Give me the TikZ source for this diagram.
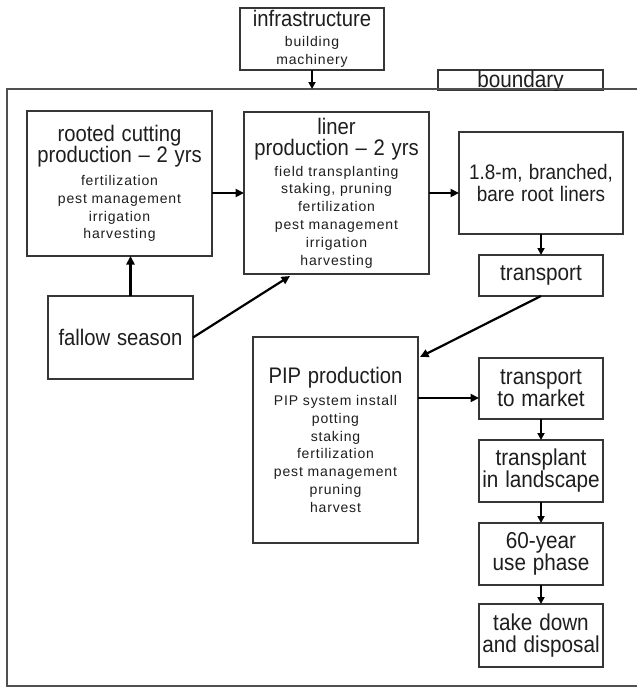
\documentclass[tikz,border=0pt]{standalone}
\usepackage{fontspec}
\setmainfont{Liberation Sans}
\newfontfamily\cf{Liberation Sans}[FakeStretch=0.9]
\usetikzlibrary{arrows.meta,calc}
\setlength\parindent{0pt}
\definecolor{boxc}{HTML}{363636}
\definecolor{bndc}{HTML}{505050}
\definecolor{txt}{HTML}{1E1E1E}
\newcommand\bigf{\cf\fontsize{22.5}{21}\selectfont\spaceskip=0.3em\relax}
\newcommand\smf{\fontsize{14}{17.8}\selectfont\addfontfeature{LetterSpace=6}\spaceskip=0.34em\relax}
\newcommand\rtf{\cf\fontsize{23}{22}\selectfont\spaceskip=0.3em\relax}
\newcommand\tb[1]{{\bigf #1\par}}
\newcommand\ts[1]{{\smf #1\par}}
\begin{document}
\begin{tikzpicture}[x=1pt,y=-1pt,
  box/.style={draw=boxc,line width=1.3pt,inner sep=0pt,outer sep=0pt,align=center,text=txt,fill=white},
  arr/.style={draw=black,line width=2.2pt,-{Triangle[length=8.5pt,width=8pt]}},
  sarr/.style={draw=black,line width=1.8pt,-{Triangle[length=7pt,width=7pt]}}]
\useasboundingbox (0,0) rectangle (637,688);
% boundary tab and label
\node[box,minimum width=165pt,minimum height=20pt] (tab) at (520.5,80) {};
\begin{scope}
\clip (tab.north west) rectangle (tab.south east);
\node[anchor=base,inner sep=0pt,text=txt,font=\rtf] (tablbl) at (520.5,87.5) {boundary};
\end{scope}
% system boundary (right edge lies beyond the page)
\node[draw=bndc,line width=2pt,inner sep=0pt,outer sep=0pt,minimum width=634pt,minimum height=597pt] (bnd) at (324,387.5) {};
% boxes
\node[box,minimum width=144pt,minimum height=62pt,text width=140pt] (infra) at (312,39)
  {\tb{infrastructure}\vspace{2pt}\ts{building\\machinery}};
\node[box,minimum width=185pt,minimum height=145pt,text width=180pt] (rooted) at (119.5,183.5)
  {\tb{rooted cutting\\production – 2 yrs}\vspace{5pt}\ts{fertilization\\pest management\\irrigation\\harvesting}};
\node[box,minimum width=185pt,minimum height=162pt,text width=180pt] (liner) at (336.5,193)
  {\tb{liner\\production – 2 yrs}\vspace{3pt}\ts{field transplanting\\staking, pruning\\fertilization\\pest management\\irrigation\\harvesting}};
\node[box,minimum width=164pt,minimum height=102pt,text width=160pt] (br) at (541,183)
  {{\cf\fontsize{21}{22}\selectfont\spaceskip=0.3em\relax 1.8-m, branched,\\bare root liners\par}};
\node[box,minimum width=124pt,minimum height=41pt,text width=120pt] (transport) at (541,275.5)
  {{\rtf transport\par}};
\node[box,minimum width=145pt,minimum height=83pt,text width=140pt] (fallow) at (120.5,337.5)
  {{\cf\fontsize{22.5}{22}\selectfont\spaceskip=0.3em\relax fallow season\par}};
\node[box,minimum width=165pt,minimum height=206pt,text width=160pt] (pip) at (335.5,440)
  {\tb{PIP production}\vspace{4pt}\ts{PIP system install\\potting\\staking\\fertilization\\pest management\\pruning\\harvest}};
\node[box,minimum width=124pt,minimum height=61pt,text width=120pt] (ttm) at (541,388.5)
  {{\rtf transport\\to market\par}};
\node[box,minimum width=124pt,minimum height=62pt,text width=120pt] (tl) at (541,471)
  {{\rtf transplant\\in landscape\par}};
\node[box,minimum width=124pt,minimum height=62pt,text width=120pt] (use) at (541,554)
  {{\rtf 60-year\\use phase\par}};
\node[box,minimum width=124pt,minimum height=63pt,text width=120pt] (td) at (541,635.5)
  {{\rtf take down\\and disposal\par}};
% connectors
\draw[sarr] (infra.south) -- (infra.south |- bnd.north);
\draw[arr] (rooted.east |- liner.west) -- (liner.west);
\draw[arr] (liner.east) -- (br.west |- liner.east);
\draw[sarr] (br.south) -- (transport.north);
\coordinate (fa) at ($(fallow.north)+(10,0)$);
\draw[arr] (fa) -- (fa |- rooted.south);
\coordinate (linin) at ($(liner.south)+(-46.5,2)$);
\draw[arr] (fallow.east) -- (linin);
\coordinate (pipin) at ($(pip.north east)+(2,20)$);
\draw[arr] (transport.south) -- (pipin);
\coordinate (pipout) at ($(pip.north east)+(0,61)$);
\draw[arr] (pipout) -- (ttm.west |- pipout);
\draw[sarr] (ttm.south) -- (tl.north);
\draw[sarr] (tl.south) -- (use.north);
\draw[sarr] (use.south) -- (td.north);
\end{tikzpicture}
\end{document}
